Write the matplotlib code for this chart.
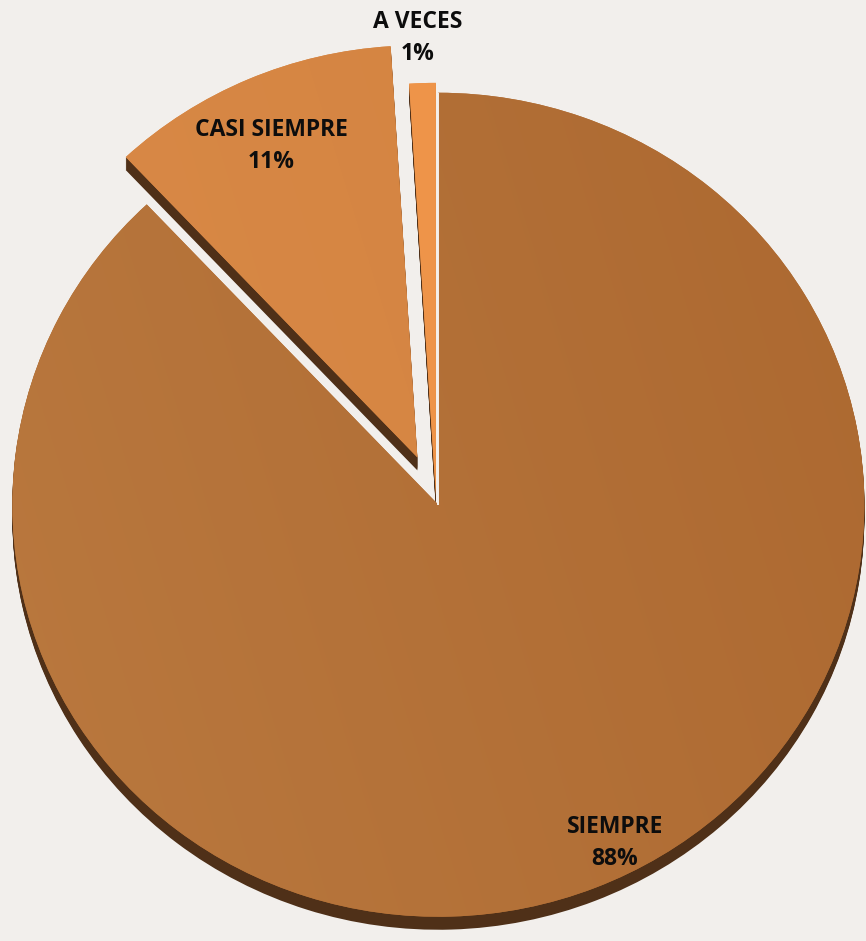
import numpy as np
import matplotlib.pyplot as plt
from matplotlib.colors import to_rgb

# datos de la encuesta
categorias = ['SIEMPRE', 'CASI SIEMPRE', 'A VECES']
porcentajes = [88, 11, 1]

colores = ['#B47036', '#D78644', '#F0954A']
# degradado (claro arriba-izquierda, oscuro abajo-derecha)
claros = ['#BA793F', '#DA8B49', '#F0964B']
oscuros = ['#AC6830', '#D2813E', '#EE9348']
separacion = [0.015, 0.11, 0.01]

fondo = '#F2EFEC'
sombra = '#4F3018'

W, H = 866, 941
fig = plt.figure(figsize=(W / 100, H / 100), dpi=100, facecolor=fondo)
ax = fig.add_axes([0, 0, 1, 1])
ax.set_facecolor(fondo)

cx, cy = 436, 499   # centro de la torta en pixeles
rx, ry = 426, 412   # radios (torta un poco inclinada)

# canto de la torta: la misma torta repetida hacia abajo
grosor = 13
for k in range(grosor, 0, -1):
    ax.pie(porcentajes, colors=[sombra] * 3, startangle=90, counterclock=False,
           explode=separacion, center=(0, -k / ry), radius=1,
           wedgeprops=dict(linewidth=0))

cuñas, _ = ax.pie(porcentajes, colors=colores, startangle=90, counterclock=False,
                  explode=separacion, center=(0, 0), radius=1,
                  wedgeprops=dict(linewidth=0))

ax.set_xlim(-cx / rx, (W - cx) / rx)
ax.set_ylim(-(H - cy) / ry, cy / ry)
ax.set_aspect('auto')
ax.axis('off')

# relleno con degradado recortado a cada cuña
n = 200
gx, gy = np.meshgrid(np.linspace(0, 1, n), np.linspace(0, 1, n))
t = np.clip(0.75 * gx + 0.25 * gy, 0, 1)[..., None]
ext = [*ax.get_xlim(), *ax.get_ylim()[::-1]]
for cuña, c1, c2 in zip(cuñas, claros, oscuros):
    img = (1 - t) * np.array(to_rgb(c1)) + t * np.array(to_rgb(c2))
    im = ax.imshow(img, extent=ext, origin='upper', aspect='auto',
                   zorder=cuña.get_zorder() + 0.1, interpolation='bilinear')
    im.set_clip_path(cuña)

# brillo en el borde recto de la cuña grande
c = cuñas[0]
ang = np.deg2rad(c.theta2)
ax.plot([c.center[0], c.center[0] + c.r * np.cos(ang)],
        [c.center[1], c.center[1] + c.r * np.sin(ang)],
        color='#F6F1EC', lw=1.4, solid_capstyle='butt', zorder=c.get_zorder() + 0.2)

ax.set_xlim(ext[0], ext[1])
ax.set_ylim(ext[3], ext[2])

# etiquetas
pos_etiquetas = [(615, 843), (271, 146), (418, 38)]
for cat, val, (px, py) in zip(categorias, porcentajes, pos_etiquetas):
    fig.text(px / W, 1 - py / H, f'{cat}\n{val}%', ha='center', va='center',
             fontsize=16.5, fontweight='bold', family=['Open Sans', 'DejaVu Sans'],
             color='#0D0D0D', linespacing=1.4, zorder=10)

fig.savefig('out.png', dpi=100, facecolor=fondo)
